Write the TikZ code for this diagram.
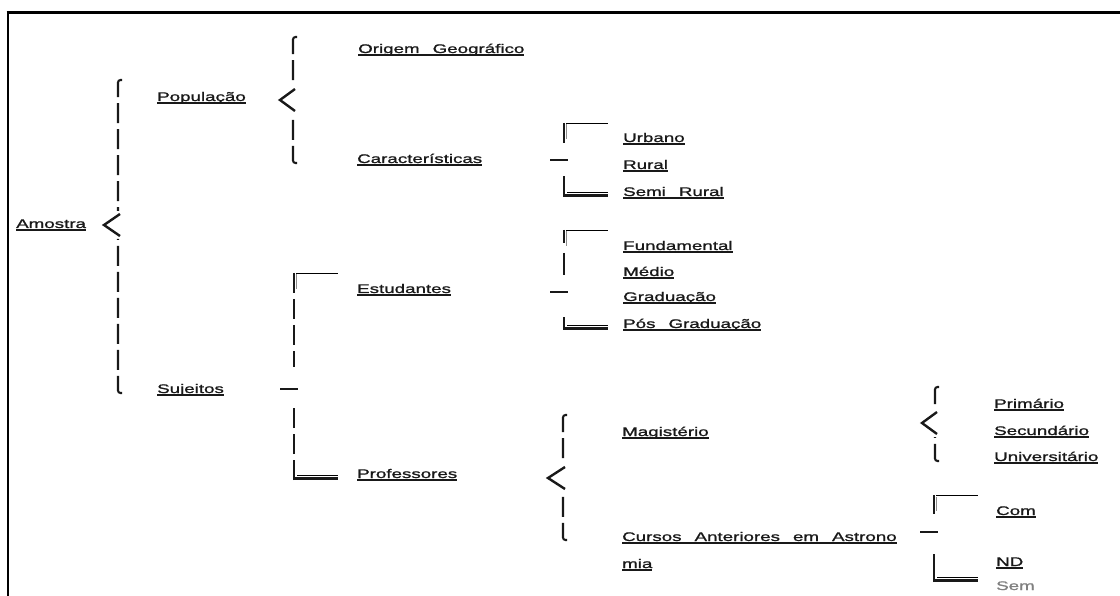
\documentclass[tikz,border=0pt]{standalone}
\usepackage{fontspec}
\newfontfamily\widefont[FakeStretch=1.5,FakeBold=1.2]{Liberation Sans}
\newcommand\ulx[1]{\setbox0\hbox{#1}\rlap{\rule[-2.6pt]{\wd0}{1.3pt}}\box0}
\colorlet{ink}{black!90}
\colorlet{shade}{black!9}
% brace: x, top, tip y, bottom, tip x
\newcommand\brc[5]{%
  \draw[bline,dsh,rounded corners=2.5pt] (#1+4,#2) -- (#1,#2) -- (#1,#3-14);
  \draw[bline,line width=2.4pt,line join=miter] (#1+2,#3-11) -- (#5,#3) -- (#1+2,#3+11);
  \draw[bline,dsh,rounded corners=2.5pt] (#1+4,#4) -- (#1,#4) -- (#1,#3+14);
}
% bracket: [dash style], x, top, top end, mid, bottom start, bottom
\newcommand\brk[7][]{%
  \draw[shade,line width=1.3pt] (#2+2,#3+0.7) -- (#2+44,#3+0.7);
  \draw[black!45,line width=1pt] (#2+2.2,#3+1.5) -- (#2+2.2,#3+16);
  \draw[bline,#1] (#2,#3) -- (#2,#4);
  \draw[bline] (#2-14,#5) -- (#2+4,#5);
  \draw[bline,#1] (#2,#7) -- (#2,#6);
  \draw[shade,line width=1.5pt] (#2+3,#7-4.5) -- (#2+44,#7-4.5);
  \draw[ink,line width=3pt] (#2-1,#7-1.5) -- (#2+44,#7-1.5);
}
\begin{document}
\begin{tikzpicture}[x=1pt,y=-1pt,
  lbl/.style={anchor=base west,inner sep=0pt,text=ink,
    font={\widefont\fontsize{12.5}{15}\selectfont\spaceskip=13pt\relax}},
  bline/.style={draw=ink,line width=2.1pt},
  dsh/.style={dash pattern=on 20pt off 6pt}]
\useasboundingbox (0,0) rectangle (1120,596);
% frame
\draw[black,line width=3pt] (6.5,12.5) -- (1120,12.5);
\draw[black,line width=2.5pt] (8,11) -- (8,596);
% labels
\node[lbl] (amostra) at (16,228) {\ulx{Amostra}};
\node[lbl] (populacao) at (157,101) {\ulx{População}};
\node[lbl] (sujeitos) at (157,393) {\ulx{Sujeitos}};
\node[lbl] (origem) at (358,53) {\ulx{Origem Geográfico}};
\node[lbl] (caract) at (357,163) {\ulx{Características}};
\node[lbl] (estud) at (357,293) {\ulx{Estudantes}};
\node[lbl] (prof) at (357,478) {\ulx{Professores}};
\node[lbl] (urbano) at (623,142) {\ulx{Urbano}};
\node[lbl] (rural) at (623,169) {\ulx{Rural}};
\node[lbl] (semirural) at (623,196) {\ulx{Semi Rural}};
\node[lbl] (fund) at (623,250) {\ulx{Fundamental}};
\node[lbl] (medio) at (623,276) {\ulx{Médio}};
\node[lbl] (grad) at (623,301) {\ulx{Graduação}};
\node[lbl] (posgrad) at (623,328) {\ulx{Pós Graduação}};
\node[lbl] (magis) at (622,436) {\ulx{Magistério}};
\node[lbl] (cursosa) at (622,541) {\ulx{Cursos Anteriores em Astrono}};
\node[lbl] (cursosb) at (622,568) {\ulx{mia}};
\node[lbl] (prim) at (994,408) {\ulx{Primário}};
\node[lbl] (secund) at (994,435) {\ulx{Secundário}};
\node[lbl] (univ) at (994,461) {\ulx{Universitário}};
\node[lbl] (com) at (996,515) {\ulx{Com}};
\node[lbl] (nd) at (996,566) {\ulx{ND}};
\node[lbl,text=black!50] (sem) at (996,590) {Sem};
% braces
\brc{118}{80}{225}{393}{104}
\brc{293}{37}{100}{163}{280}
\brc{563}{415}{478}{540}{548}
\brc{935}{387}{423}{461}{922}
% brackets
\brk{564}{123}{143}{160}{176}{197}
\brk[dash pattern=on 13pt off 10pt on 22pt off 5pt]{564}{230}{275}{292}{308}{330}
\brk[dsh]{294}{273}{367}{389}{405}{480}
\brk{934}{495}{514}{532}{554}{582}
\end{tikzpicture}
\end{document}
